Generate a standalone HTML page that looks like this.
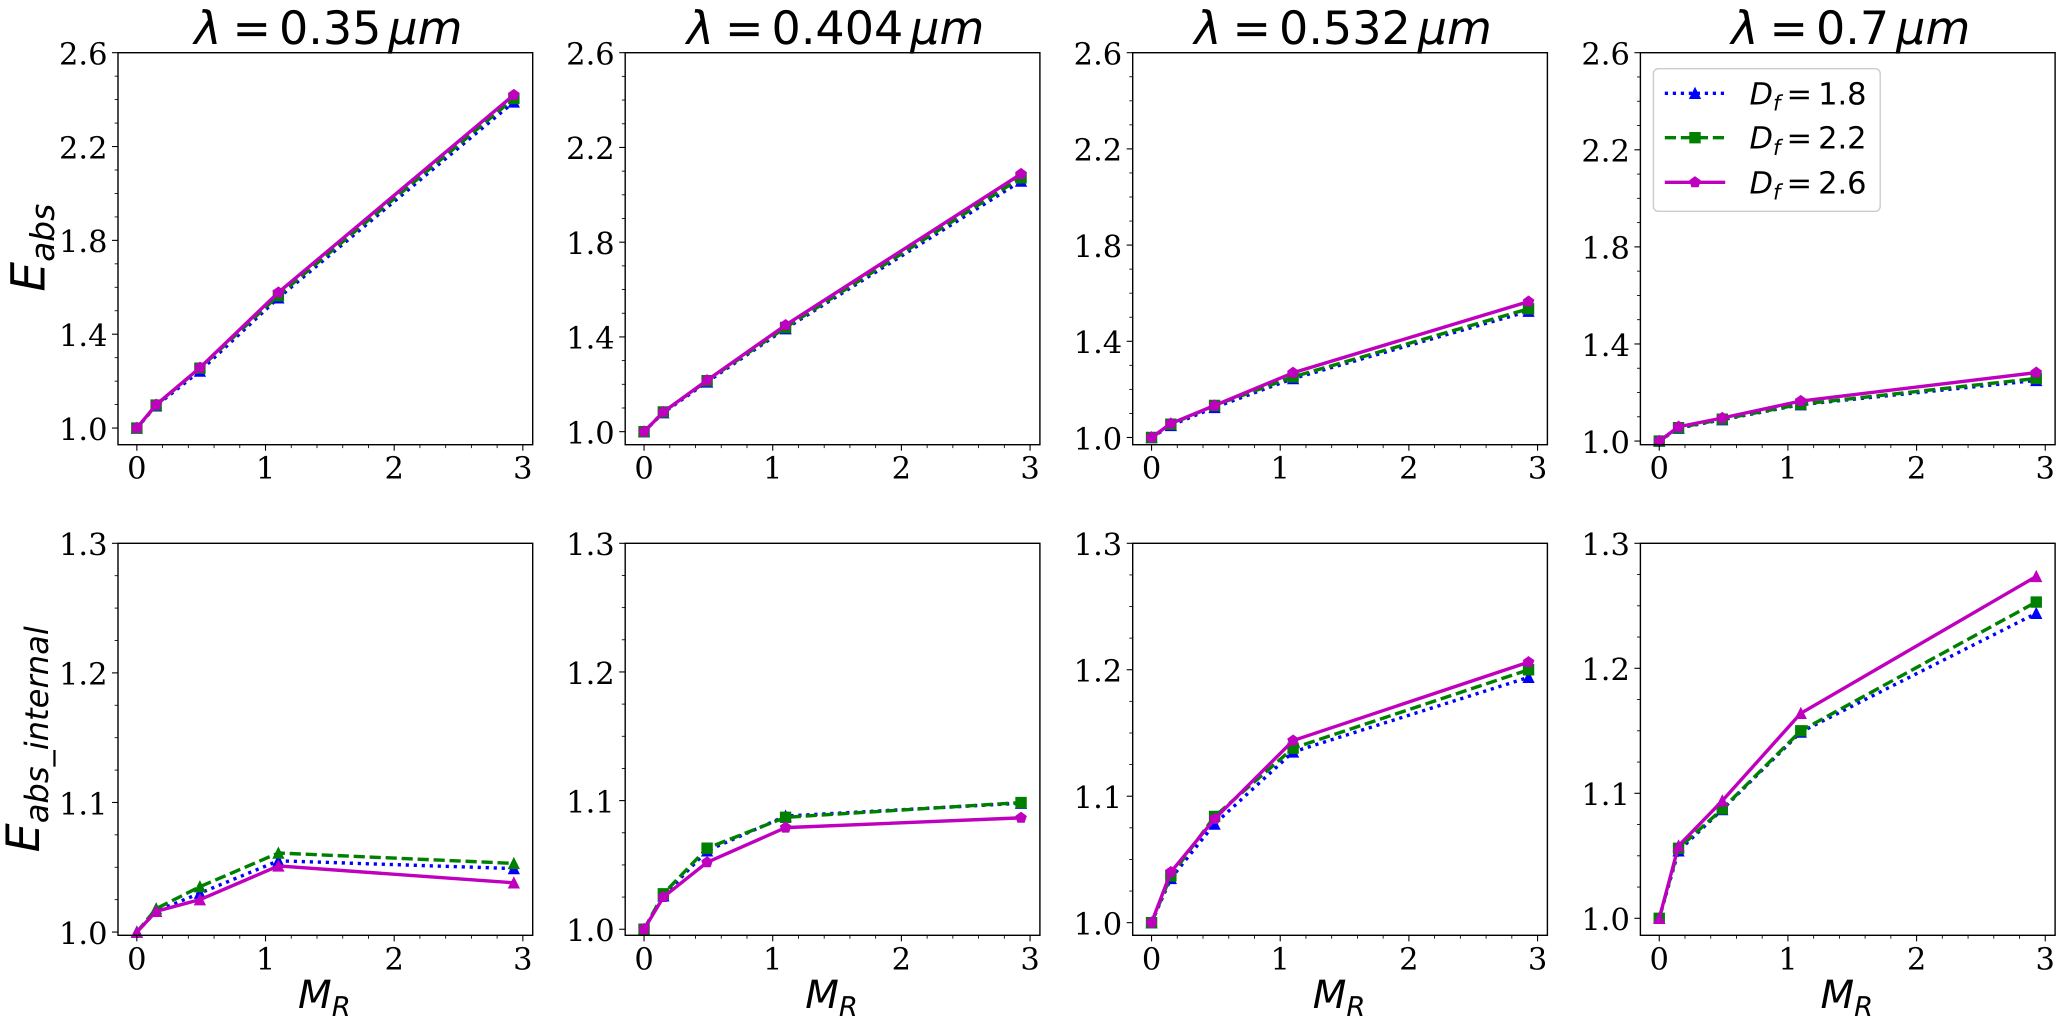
<!DOCTYPE html>
<html lang="en">
<head>
<meta charset="utf-8">
<title>Absorption enhancement vs mass ratio</title>
<style>
html,body{margin:0;padding:0;background:#fff;}
svg{display:block;text-rendering:geometricPrecision;}
.tick{font-family:"DejaVu Serif","Liberation Serif",serif;font-size:30.5px;fill:#000;}
.math{font-family:"DejaVu Sans","Liberation Sans",sans-serif;fill:#000;}
</style>
</head>
<body>
<svg id="figure" xmlns="http://www.w3.org/2000/svg" width="2066" height="1019" viewBox="0 0 2066 1019">
<rect x="0" y="0" width="2066" height="1019" fill="#ffffff"></rect>
</svg>
<script>
// ---- shared axis data ----
const massRatio = [0, 0.15, 0.49, 1.1, 2.93];
const wavelengths = ['0.35', '0.404', '0.532', '0.7'];
const seriesLabels = ['1.8', '2.2', '2.6'];
const xTickValues = [0, 1, 2, 3];
const xTickLabels = ['0', '1', '2', '3'];
const topYTickValues = [1.0, 1.4, 1.8, 2.2, 2.6];
const topYTickLabels = ['1.0', '1.4', '1.8', '2.2', '2.6'];
const bottomYTickValues = [1.0, 1.1, 1.2, 1.3];
const bottomYTickLabels = ['1.0', '1.1', '1.2', '1.3'];
const xLimits = [-0.1465, 3.0765];
const topYMinimums = [0.929, 0.945, 0.97, 0.985];
const bottomYMinimums = [0.9975, 0.9953, 0.99, 0.9864];

// ---- E_abs, top row ----
const eabs035Df18 = [1.0, 1.095, 1.243, 1.555, 2.39];
const eabs035Df22 = [1.0, 1.098, 1.255, 1.565, 2.405];
const eabs035Df26 = [1.0, 1.0995, 1.257, 1.578, 2.42];
const eabs0404Df18 = [1.0, 1.08, 1.21, 1.435, 2.058];
const eabs0404Df22 = [1.0, 1.083, 1.215, 1.44, 2.072];
const eabs0404Df26 = [1.0, 1.083, 1.217, 1.45, 2.088];
const eabs0532Df18 = [1.0, 1.05, 1.125, 1.245, 1.525];
const eabs0532Df22 = [1.0, 1.055, 1.133, 1.252, 1.535];
const eabs0532Df26 = [1.0, 1.058, 1.133, 1.269, 1.565];
const eabs07Df18 = [1.0, 1.053, 1.088, 1.15, 1.25];
const eabs07Df22 = [1.0, 1.055, 1.09, 1.152, 1.258];
const eabs07Df26 = [1.0, 1.059, 1.095, 1.165, 1.282];

// ---- E_abs_internal, bottom row ----
const eint035Df18 = [1.0, 1.016, 1.03, 1.055, 1.049];
const eint035Df22 = [1.0, 1.018, 1.035, 1.061, 1.053];
const eint035Df26 = [1.0, 1.016, 1.025, 1.051, 1.038];
const eint0404Df18 = [1.0, 1.026, 1.061, 1.088, 1.098];
const eint0404Df22 = [1.0, 1.0275, 1.063, 1.087, 1.0985];
const eint0404Df26 = [1.0, 1.025, 1.052, 1.079, 1.0866];
const eint0532Df18 = [1.0, 1.035, 1.078, 1.135, 1.194];
const eint0532Df22 = [1.0, 1.037, 1.084, 1.138, 1.2];
const eint0532Df26 = [1.0, 1.04, 1.082, 1.144, 1.206];
const eint07Df18 = [1.0, 1.054, 1.087, 1.149, 1.244];
const eint07Df22 = [1.0, 1.056, 1.0875, 1.15, 1.253];
const eint07Df26 = [1.0, 1.058, 1.094, 1.164, 1.2735];

const topRowSeries = [
  [eabs035Df18, eabs035Df22, eabs035Df26],
  [eabs0404Df18, eabs0404Df22, eabs0404Df26],
  [eabs0532Df18, eabs0532Df22, eabs0532Df26],
  [eabs07Df18, eabs07Df22, eabs07Df26]
];
const bottomRowSeries = [
  [eint035Df18, eint035Df22, eint035Df26],
  [eint0404Df18, eint0404Df22, eint0404Df26],
  [eint0532Df18, eint0532Df22, eint0532Df26],
  [eint07Df18, eint07Df22, eint07Df26]
];
const topRowMarkers = [
  ['triangle', 'square', 'pentagon'],
  ['triangle', 'square', 'pentagon'],
  ['triangle', 'square', 'pentagon'],
  ['triangle', 'square', 'pentagon']
];
const bottomRowMarkers = [
  ['triangle', 'triangle', 'triangle'],
  ['triangle', 'square', 'pentagon'],
  ['triangle', 'square', 'pentagon'],
  ['triangle', 'square', 'triangle']
];

// ---- layout and style ----
const NS = 'http://www.w3.org/2000/svg';
const root = document.getElementById('figure');
const panelLefts = [118, 625.2, 1132.7, 1640.4];
const panelWidth = 414.7;
const rowTops = [52.7, 543.3];
const rowHeight = 392;
const LW = 3.4;
const MS = 10;
const lineStyles = [
  {color: '#0000ff', dash: '3.2 4.8', cap: 'butt'},
  {color: '#008000', dash: '11.2 4.8', cap: 'butt'},
  {color: '#bf00bf', dash: '', cap: 'square'}
];

function make(tag, parent, attrs) {
  const node = document.createElementNS(NS, tag);
  for (const k in attrs) node.setAttribute(k, attrs[k]);
  parent.appendChild(node);
  return node;
}

function mathText(parent, x, y, size, anchor, rotate, segs) {
  const attrs = {x: x, y: y, 'font-size': size, 'text-anchor': anchor, class: 'math'};
  if (rotate) attrs.transform = 'rotate(' + rotate + ' ' + x + ' ' + y + ')';
  const t = make('text', parent, attrs);
  let drop = 0;
  segs.forEach(function (s) {
    const a = {};
    if (s.i) a['font-style'] = 'italic';
    let dy = 0;
    if (s.sub) { a['font-size'] = size * 0.7; dy = size * 0.2 - drop; drop = size * 0.2; }
    else if (drop) { dy = -drop; drop = 0; }
    if (dy) a.dy = dy;
    if (s.dx) a.dx = s.dx;
    const span = make('tspan', t, a);
    span.textContent = s.t;
  });
  return t;
}

function markerPoints(kind, cx, cy) {
  const r = MS / 2;
  if (kind === 'triangle') return [[cx, cy - r], [cx - r, cy + r], [cx + r, cy + r]];
  if (kind === 'square') return [[cx - r, cy - r], [cx + r, cy - r], [cx + r, cy + r], [cx - r, cy + r]];
  const pts = [];
  for (let i = 0; i < 5; i++) {
    const ang = -Math.PI / 2 + i * 2 * Math.PI / 5;
    pts.push([cx + r * Math.cos(ang) * 1.05, cy + r * Math.sin(ang) * 1.05]);
  }
  return pts;
}

function drawMarker(parent, kind, cx, cy, color) {
  const pts = markerPoints(kind, cx, cy).map(function (p) { return p[0].toFixed(2) + ',' + p[1].toFixed(2); }).join(' ');
  return make('polygon', parent, {points: pts, fill: color, stroke: color, 'stroke-width': 1.4, 'stroke-linejoin': 'miter'});
}

function drawPanel(col, row, series, markers, yMin, yMax, yTickValues, yTickLabels, minorStep) {
  const left = panelLefts[col];
  const top = rowTops[row];
  const bottom = top + rowHeight;
  const right = left + panelWidth;
  const xScale = function (v) { return left + (v - xLimits[0]) / (xLimits[1] - xLimits[0]) * panelWidth; };
  const yScale = function (v) { return bottom - (v - yMin) / (yMax - yMin) * rowHeight; };

  const g = make('g', root, {});
  
  

  const face = make('rect', g, {x: left, y: top, width: panelWidth, height: rowHeight, fill: '#fff'});
  
  

  // series
  series.forEach(function (values, s) {
    const st = lineStyles[s];
    const sg = make('g', g, {});
    
    
    const pts = values.map(function (v, i) { return xScale(massRatio[i]).toFixed(2) + ',' + yScale(v).toFixed(2); }).join(' ');
    const attrs = {points: pts, fill: 'none', stroke: st.color, 'stroke-width': LW, 'stroke-linejoin': 'round', 'stroke-linecap': st.cap};
    if (st.dash) attrs['stroke-dasharray'] = st.dash;
    const line = make('polyline', sg, attrs);
    
    
    values.forEach(function (v, i) {
      const m = drawMarker(sg, markers[s], xScale(massRatio[i]), yScale(v), st.color);
      
      
    });
  });

  // x ticks
  xTickValues.forEach(function (v, i) {
    const x = xScale(v);
    const tick = make('line', g, {x1: x, x2: x, y1: bottom, y2: bottom + 6, stroke: '#000', 'stroke-width': 1.1});
    
    
    const label = make('text', g, {x: x, y: bottom + 34, 'text-anchor': 'middle', class: 'tick'});
    
    
    label.textContent = xTickLabels[i];
  });
  for (let k = 1; k <= 15; k++) {
    if (k % 5 === 0) continue;
    const x = xScale(k * 0.2);
    const minor = make('line', g, {x1: x, x2: x, y1: bottom, y2: bottom + 3.4, stroke: '#000', 'stroke-width': 0.85});
    
    
  }

  // y ticks
  yTickValues.forEach(function (v, i) {
    const y = yScale(v);
    const tick = make('line', g, {x1: left - 6, x2: left, y1: y, y2: y, stroke: '#000', 'stroke-width': 1.1});
    
    
    const label = make('text', g, {x: left - 10.5, y: y + 11.8, 'text-anchor': 'end', class: 'tick'});
    
    
    label.textContent = yTickLabels[i];
  });
  const minorCount = Math.round((yMax - 1) / minorStep);
  const perMajor = Math.round((yTickValues[1] - yTickValues[0]) / minorStep);
  for (let k = 1; k < minorCount; k++) {
    if (k % perMajor === 0) continue;
    const y = yScale(1 + k * minorStep);
    const minor = make('line', g, {x1: left - 3.4, x2: left, y1: y, y2: y, stroke: '#000', 'stroke-width': 0.85});
    
    
  }

  // frame
  const frame = make('rect', g, {x: left, y: top, width: panelWidth, height: rowHeight, fill: 'none', stroke: '#000', 'stroke-width': 1.4});
  
  

  const cx = left + panelWidth / 2;
  if (row === 0) {
    const title = mathText(g, cx + 3, 44, 46, 'middle', 0, [
      {t: '\u03BB', i: true},
      {t: '=', dx: 11},
      {t: wavelengths[col], dx: 8},
      {t: '\u03BCm', i: true, dx: 7}
    ]);
    
    
  } else {
    const xTitle = mathText(g, cx - 1, 1008, 39, 'middle', 0, [
      {t: 'M', i: true},
      {t: 'R', i: true, sub: true}
    ]);
    
    
  }
  if (col === 0) {
    const midY = top + rowHeight / 2;
    const yTitle = row === 0
      ? mathText(g, 44.5, midY - 1, 47, 'middle', -90, [{t: 'E', i: true}, {t: 'abs', i: true, sub: true}])
      : mathText(g, 39, midY, 46, 'middle', -90, [{t: 'E', i: true}, {t: 'abs_internal', i: true, sub: true}]);
    
    
  }
}

function drawLegend() {
  const g = make('g', root, {});
  
  
  const box = make('rect', g, {x: 1653.4, y: 68.7, width: 226.8, height: 142.6, rx: 5, ry: 5, fill: '#fff', 'fill-opacity': 0.8, stroke: '#cccccc', 'stroke-width': 1.4});
  
  
  const legendMarkers = ['triangle', 'square', 'pentagon'];
  const rowY = [93.3, 137.7, 182.3];
  seriesLabels.forEach(function (lab, s) {
    const st = lineStyles[s];
    const y = rowY[s];
    const entry = make('g', g, {});
    
    
    const attrs = {x1: 1664.8, x2: 1725.2, y1: y, y2: y, stroke: st.color, 'stroke-width': LW, 'stroke-linecap': st.cap === 'square' ? 'butt' : st.cap};
    if (st.dash) attrs['stroke-dasharray'] = st.dash;
    const line = make('line', entry, attrs);
    
    
    const m = drawMarker(entry, legendMarkers[s], 1695, y, st.color);
    
    
    const t = mathText(entry, 1749.5, y + 11, 30.5, 'start', 0, [
      {t: 'D', i: true},
      {t: 'f', i: true, sub: true},
      {t: '=', dx: 6},
      {t: lab, dx: 6}
    ]);
    
    
  });
}

for (let c = 0; c < 4; c++) {
  drawPanel(c, 0, topRowSeries[c], topRowMarkers[c], topYMinimums[c], 2.6, topYTickValues, topYTickLabels, 0.1);
  drawPanel(c, 1, bottomRowSeries[c], bottomRowMarkers[c], bottomYMinimums[c], 1.3, bottomYTickValues, bottomYTickLabels, 0.025);
}
drawLegend();
</script>
</body>
</html>
